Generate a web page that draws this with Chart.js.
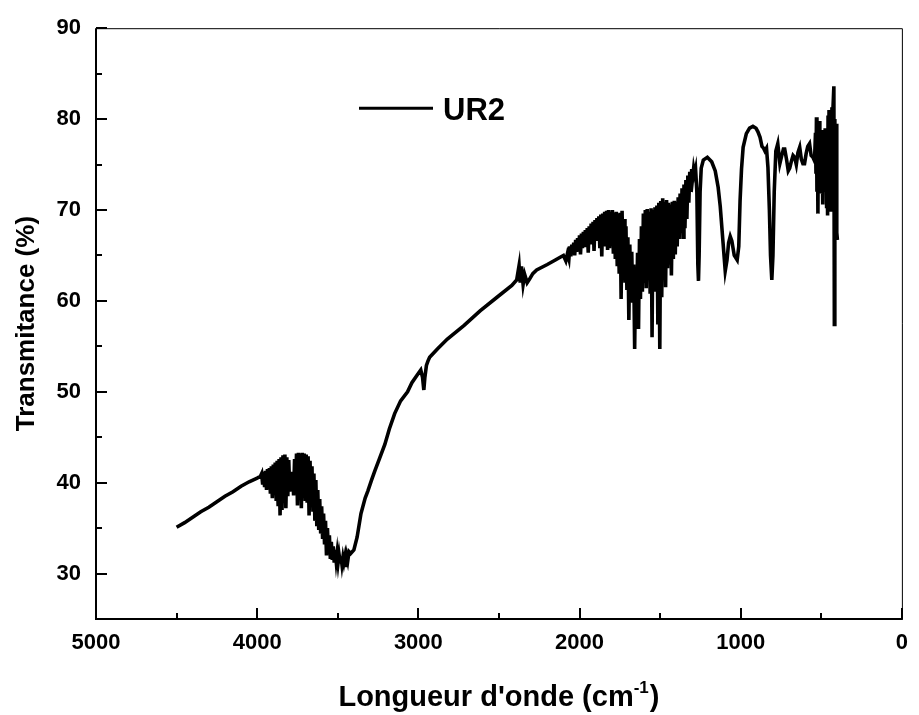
<!DOCTYPE html>
<html>
<head>
<meta charset="utf-8">
<script src="https://cdn.jsdelivr.net/npm/chart.js@4.4.1/dist/chart.umd.min.js"></script>
<style>
  html, body { margin: 0; padding: 0; background: #fff; }
  #wrap { width: 919px; height: 715px; }
</style>
</head>
<body>
<div id="wrap"><canvas id="ir" width="919" height="715"></canvas></div>
<script>
// FTIR spectrum of UR2, values as [wavenumber cm-1, transmittance %]
const baseHigh = [
  [4500, 35.1], [4450, 35.6], [4400, 36.2], [4350, 36.8], [4300, 37.3], [4250, 37.9],
  [4200, 38.5], [4150, 39.0], [4100, 39.6], [4050, 40.1], [4000, 40.5], [3980, 40.7]
];

// water vapour / O-H region
const bandOH = [
  [3972, 41.0], [3966, 39.8], [3960, 41.2], [3954, 39.5], [3948, 41.3], [3942, 39.2],
  [3936, 41.5], [3930, 39.6], [3924, 41.6], [3918, 38.8], [3912, 41.8], [3906, 38.3],
  [3900, 42.0], [3894, 39.4], [3888, 42.2], [3882, 38.0], [3876, 42.4], [3870, 37.4],
  [3864, 42.6], [3858, 36.4], [3852, 42.8], [3846, 37.0], [3840, 43.0], [3834, 38.2],
  [3828, 43.1], [3822, 37.2], [3816, 42.8], [3810, 38.5], [3804, 42.5], [3798, 39.0],
  [3792, 41.0], [3786, 39.5], [3780, 41.2], [3774, 38.6], [3768, 42.6], [3762, 38.8],
  [3756, 43.2], [3750, 37.5], [3744, 43.3], [3738, 38.6], [3732, 43.2], [3726, 37.2],
  [3720, 43.3], [3714, 38.4], [3708, 43.2], [3702, 38.0], [3696, 43.1], [3690, 37.8],
  [3684, 42.9], [3678, 36.4], [3672, 42.4], [3666, 37.6], [3660, 41.8], [3654, 36.8],
  [3648, 41.0], [3642, 35.8], [3636, 40.3], [3630, 35.2], [3624, 39.2], [3618, 34.8],
  [3612, 38.2], [3606, 34.4], [3600, 37.4], [3594, 33.8], [3588, 36.6], [3582, 33.2],
  [3576, 35.8], [3570, 32.0], [3564, 35.0], [3558, 32.2], [3552, 34.2], [3546, 31.6],
  [3540, 33.5], [3534, 31.5], [3528, 33.0], [3522, 31.2], [3516, 32.6], [3510, 31.4],
  [3504, 32.3], [3498, 31.2], [3492, 32.1], [3486, 31.3], [3480, 31.9], [3474, 31.0],
  [3468, 31.8], [3462, 31.2], [3456, 31.8], [3450, 30.7], [3444, 31.9], [3438, 31.4],
  [3430, 32.4]
];

// C-H stretch, CO2 doublet and the plateau up to 2000
const riseCH = [
  [3420, 32.2], [3400, 32.6], [3380, 34.0], [3356, 36.6], [3330, 38.3], [3313, 39.1],
  [3290, 40.3], [3270, 41.3], [3240, 42.7], [3208, 44.2], [3180, 45.9], [3147, 47.6],
  [3110, 49.0], [3067, 50.0], [3040, 51.0], [3005, 51.9], [2985, 52.4], [2974, 51.6],
  [2966, 50.2], [2960, 51.5], [2950, 52.9], [2940, 53.4], [2930, 53.8], [2882, 54.7],
  [2820, 55.8], [2716, 57.3], [2617, 58.9], [2512, 60.4], [2420, 61.7], [2390, 62.3],
  [2375, 63.9], [2368, 62.0], [2360, 63.8], [2350, 61.8], [2340, 62.9], [2325, 62.0],
  [2310, 62.4], [2290, 63.0], [2266, 63.4], [2200, 64.0], [2150, 64.5], [2120, 64.8],
  [2100, 65.0], [2085, 64.4], [2075, 65.2], [2066, 64.6]
];

// dense band 2060 - 1286
const bandCO = [
  [2060, 66.0], [2054, 64.9], [2048, 66.2], [2042, 65.2], [2036, 66.4], [2030, 65.0],
  [2024, 66.7], [2018, 65.4], [2012, 66.9], [2006, 65.6], [2000, 67.2], [1994, 65.1],
  [1988, 67.4], [1982, 65.8], [1976, 67.6], [1970, 65.9], [1964, 67.8], [1958, 66.0],
  [1952, 68.0], [1946, 65.3], [1940, 68.2], [1934, 66.2], [1928, 68.5], [1922, 66.4],
  [1916, 68.7], [1910, 65.5], [1904, 68.9], [1898, 66.6], [1892, 69.1], [1886, 66.8],
  [1880, 69.3], [1874, 65.8], [1868, 69.5], [1862, 64.9], [1856, 69.6], [1850, 66.2],
  [1844, 69.8], [1838, 66.0], [1832, 69.9], [1826, 65.6], [1820, 70.0], [1814, 65.8],
  [1808, 69.8], [1802, 66.4], [1796, 70.0], [1790, 65.2], [1784, 69.7], [1778, 64.6],
  [1772, 69.8], [1766, 63.8], [1760, 69.6], [1754, 63.0], [1748, 69.7], [1742, 60.2],
  [1736, 69.9], [1730, 62.4], [1724, 69.0], [1718, 62.0], [1712, 68.2], [1706, 61.2],
  [1700, 67.0], [1694, 57.9], [1688, 66.2], [1682, 60.6], [1676, 65.4], [1670, 59.8],
  [1664, 64.0], [1658, 54.7], [1652, 63.5], [1646, 58.6], [1640, 65.3], [1634, 56.9],
  [1628, 66.8], [1622, 60.2], [1616, 68.2], [1610, 61.0], [1604, 69.6], [1598, 62.0],
  [1592, 70.0], [1586, 61.4], [1580, 70.1], [1574, 62.6], [1568, 69.8], [1562, 60.8],
  [1556, 70.2], [1550, 56.0], [1544, 70.0], [1538, 62.2], [1532, 70.3], [1526, 61.0],
  [1520, 70.5], [1514, 57.4], [1508, 70.8], [1502, 54.7], [1496, 71.0], [1490, 60.4],
  [1484, 71.3], [1478, 62.8], [1472, 70.9], [1466, 61.5], [1460, 71.1], [1454, 63.6],
  [1448, 70.8], [1442, 64.0], [1436, 70.6], [1430, 62.8], [1424, 70.9], [1418, 64.6],
  [1412, 71.0], [1406, 65.1], [1400, 70.9], [1394, 66.0], [1388, 71.4], [1382, 66.8],
  [1376, 71.8], [1370, 67.5], [1364, 72.4], [1358, 67.0], [1352, 72.8], [1346, 68.0],
  [1340, 73.3], [1334, 69.0], [1328, 73.8], [1322, 70.8], [1316, 74.2], [1310, 72.0],
  [1304, 74.5], [1298, 73.6], [1292, 74.6], [1286, 74.0]
];

// fingerprint region
const fingerprint = [
  [1280, 74.5], [1272, 72.0], [1266, 64.0], [1262, 62.2], [1258, 65.0], [1252, 72.0],
  [1245, 74.6], [1232, 75.5], [1207, 75.8], [1180, 75.3], [1158, 74.3], [1140, 72.5],
  [1127, 70.4], [1110, 66.5], [1096, 63.3], [1085, 64.5], [1075, 66.4], [1065, 67.1],
  [1055, 66.6], [1040, 65.0], [1022, 64.5], [1012, 66.0], [1004, 71.0], [995, 74.5],
  [985, 76.9], [965, 78.4], [945, 79.0], [924, 79.2], [905, 79.0], [893, 78.6],
  [880, 78.0], [868, 77.0], [858, 76.8], [850, 76.5], [840, 76.8], [831, 74.7],
  [822, 70.0], [815, 65.0], [807, 62.3], [800, 65.0], [792, 72.0], [782, 76.5],
  [770, 77.3], [757, 75.1], [745, 76.0], [735, 76.7], [727, 76.7], [715, 75.5],
  [705, 74.3], [696, 74.6], [685, 75.4], [675, 76.0], [665, 75.8], [655, 75.0],
  [645, 76.3], [634, 76.9], [624, 75.6], [614, 75.1], [604, 75.1], [594, 76.2],
  [584, 77.0], [573, 77.3], [563, 76.0], [552, 75.8], [542, 75.4]
];

// noisy far end
const lowEnd = [
  [536, 78.5], [533, 74.0], [530, 80.2], [527, 72.0], [524, 78.0], [521, 69.6],
  [518, 79.4], [515, 73.5], [512, 79.8], [509, 74.4], [506, 77.5], [503, 71.8],
  [500, 78.8], [497, 72.5], [494, 76.0], [491, 70.6], [488, 78.5], [485, 74.0],
  [482, 77.0], [479, 73.2], [476, 79.0], [473, 72.0], [470, 77.6], [467, 70.2],
  [464, 78.5], [461, 69.4], [458, 80.4], [455, 72.4], [452, 81.0], [449, 73.0],
  [446, 80.2], [443, 70.0], [440, 79.5], [437, 72.8], [434, 81.3], [431, 74.0],
  [428, 81.0], [422, 83.6], [419, 57.4], [416, 80.0], [412, 66.8], [408, 79.5],
  [404, 67.5], [400, 66.7]
];

const xTickValues = [5000, 4000, 3000, 2000, 1000, 0];
const xMinorValues = [4500, 3500, 2500, 1500, 500];
const yTickValues = [30, 40, 50, 60, 70, 80, 90];
const yMinorValues = [35, 45, 55, 65, 75, 85];

const seriesName = 'UR2';
const yTitle = 'Transmitance (%)';
const xTitle = "Longueur d'onde (cm";
const xTitleSup = '-1';

const FONT = '"Liberation Sans", Arial, Helvetica, sans-serif';

const spectrum = [...baseHigh, ...bandOH, ...riseCH, ...bandCO, ...fingerprint, ...lowEnd]
  .map(([x, y]) => ({ x, y }));

// frame, inward ticks, legend and axis titles
const irDecor = {
  id: 'irDecor',
  afterDraw(chart) {
    const ctx = chart.ctx;
    const a = chart.chartArea;
    const xs = chart.scales.x;
    const ys = chart.scales.y;
    ctx.save();
    ctx.strokeStyle = '#000';
    ctx.fillStyle = '#000';

    // thin top and right border
    ctx.lineWidth = 1;
    ctx.beginPath();
    ctx.moveTo(a.left, a.top + 0.5);
    ctx.lineTo(a.right + 0.5, a.top + 0.5);
    ctx.lineTo(a.right + 0.5, a.bottom);
    ctx.stroke();

    // thick left and bottom axes
    ctx.lineWidth = 2;
    ctx.beginPath();
    ctx.moveTo(a.left, a.top);
    ctx.lineTo(a.left, a.bottom);
    ctx.lineTo(a.right + 1, a.bottom);
    ctx.stroke();

    // ticks pointing inwards
    ctx.lineWidth = 2;
    ctx.beginPath();
    xTickValues.forEach(v => {
      const px = Math.round(xs.getPixelForValue(v));
      ctx.moveTo(px, a.bottom); ctx.lineTo(px, a.bottom - 11);
    });
    xMinorValues.forEach(v => {
      const px = Math.round(xs.getPixelForValue(v));
      ctx.moveTo(px, a.bottom); ctx.lineTo(px, a.bottom - 6);
    });
    yTickValues.forEach(v => {
      const py = Math.round(ys.getPixelForValue(v));
      ctx.moveTo(a.left, py); ctx.lineTo(a.left + 11, py);
    });
    yMinorValues.forEach(v => {
      const py = Math.round(ys.getPixelForValue(v));
      ctx.moveTo(a.left, py); ctx.lineTo(a.left + 6, py);
    });
    ctx.stroke();

    // legend
    ctx.lineWidth = 3;
    ctx.beginPath();
    ctx.moveTo(a.left + 263, a.top + 80);
    ctx.lineTo(a.left + 337, a.top + 80);
    ctx.stroke();
    ctx.font = 'bold 31px ' + FONT;
    ctx.textAlign = 'left';
    ctx.textBaseline = 'middle';
    ctx.fillText(seriesName, a.left + 347, a.top + 83);

    // y title
    ctx.save();
    ctx.translate(27, (a.top + a.bottom) / 2);
    ctx.rotate(-Math.PI / 2);
    ctx.font = 'bold 26px ' + FONT;
    ctx.textAlign = 'center';
    ctx.textBaseline = 'middle';
    ctx.fillText(yTitle, 0, 0);
    ctx.restore();

    // x title with superscript
    const mainFont = 'bold 29px ' + FONT;
    const supFont = 'bold 17px ' + FONT;
    ctx.font = mainFont;
    const w1 = ctx.measureText(xTitle).width;
    const w3 = ctx.measureText(')').width;
    ctx.font = supFont;
    const w2 = ctx.measureText(xTitleSup).width;
    const total = w1 + w2 + w3 + 1;
    let x0 = (a.left + a.right) / 2 - total / 2;
    const base = a.bottom + 87;
    ctx.textAlign = 'left';
    ctx.textBaseline = 'alphabetic';
    ctx.font = mainFont;
    ctx.fillText(xTitle, x0, base);
    ctx.font = supFont;
    ctx.fillText(xTitleSup, x0 + w1, base - 13);
    ctx.font = mainFont;
    ctx.fillText(')', x0 + w1 + w2 + 1, base);

    ctx.restore();
  }
};

new Chart(document.getElementById('ir'), {
  type: 'scatter',
  data: {
    datasets: [{
      label: seriesName,
      data: spectrum,
      showLine: true,
      borderColor: '#000',
      borderWidth: 3.6,
      pointRadius: 0,
      tension: 0
    }]
  },
  options: {
    responsive: false,
    animation: false,
    events: [],
    layout: { padding: { left: 0, right: 11, top: 23, bottom: 0 } },
    plugins: {
      legend: { display: false },
      tooltip: { enabled: false }
    },
    scales: {
      x: {
        type: 'linear',
        min: 0,
        max: 5000,
        reverse: true,
        grid: { display: false, drawTicks: false },
        border: { display: false },
        afterBuildTicks: scale => { scale.ticks = xTickValues.map(v => ({ value: v })); },
        afterFit: scale => { scale.height = 96; },
        ticks: {
          autoSkip: false,
          maxRotation: 0,
          padding: 11,
          color: '#000',
          font: { family: FONT, size: 22, weight: 'bold' },
          callback: v => String(v)
        }
      },
      y: {
        type: 'linear',
        min: 25,
        max: 90,
        grid: { display: false, drawTicks: false },
        border: { display: false },
        afterBuildTicks: scale => { scale.ticks = yTickValues.map(v => ({ value: v })); },
        afterFit: scale => { scale.width = 96; },
        ticks: {
          autoSkip: false,
          padding: 15,
          color: '#000',
          font: { family: FONT, size: 22, weight: 'bold' },
          callback: v => String(v)
        }
      }
    }
  },
  plugins: [irDecor]
});
</script>
</body>
</html>
